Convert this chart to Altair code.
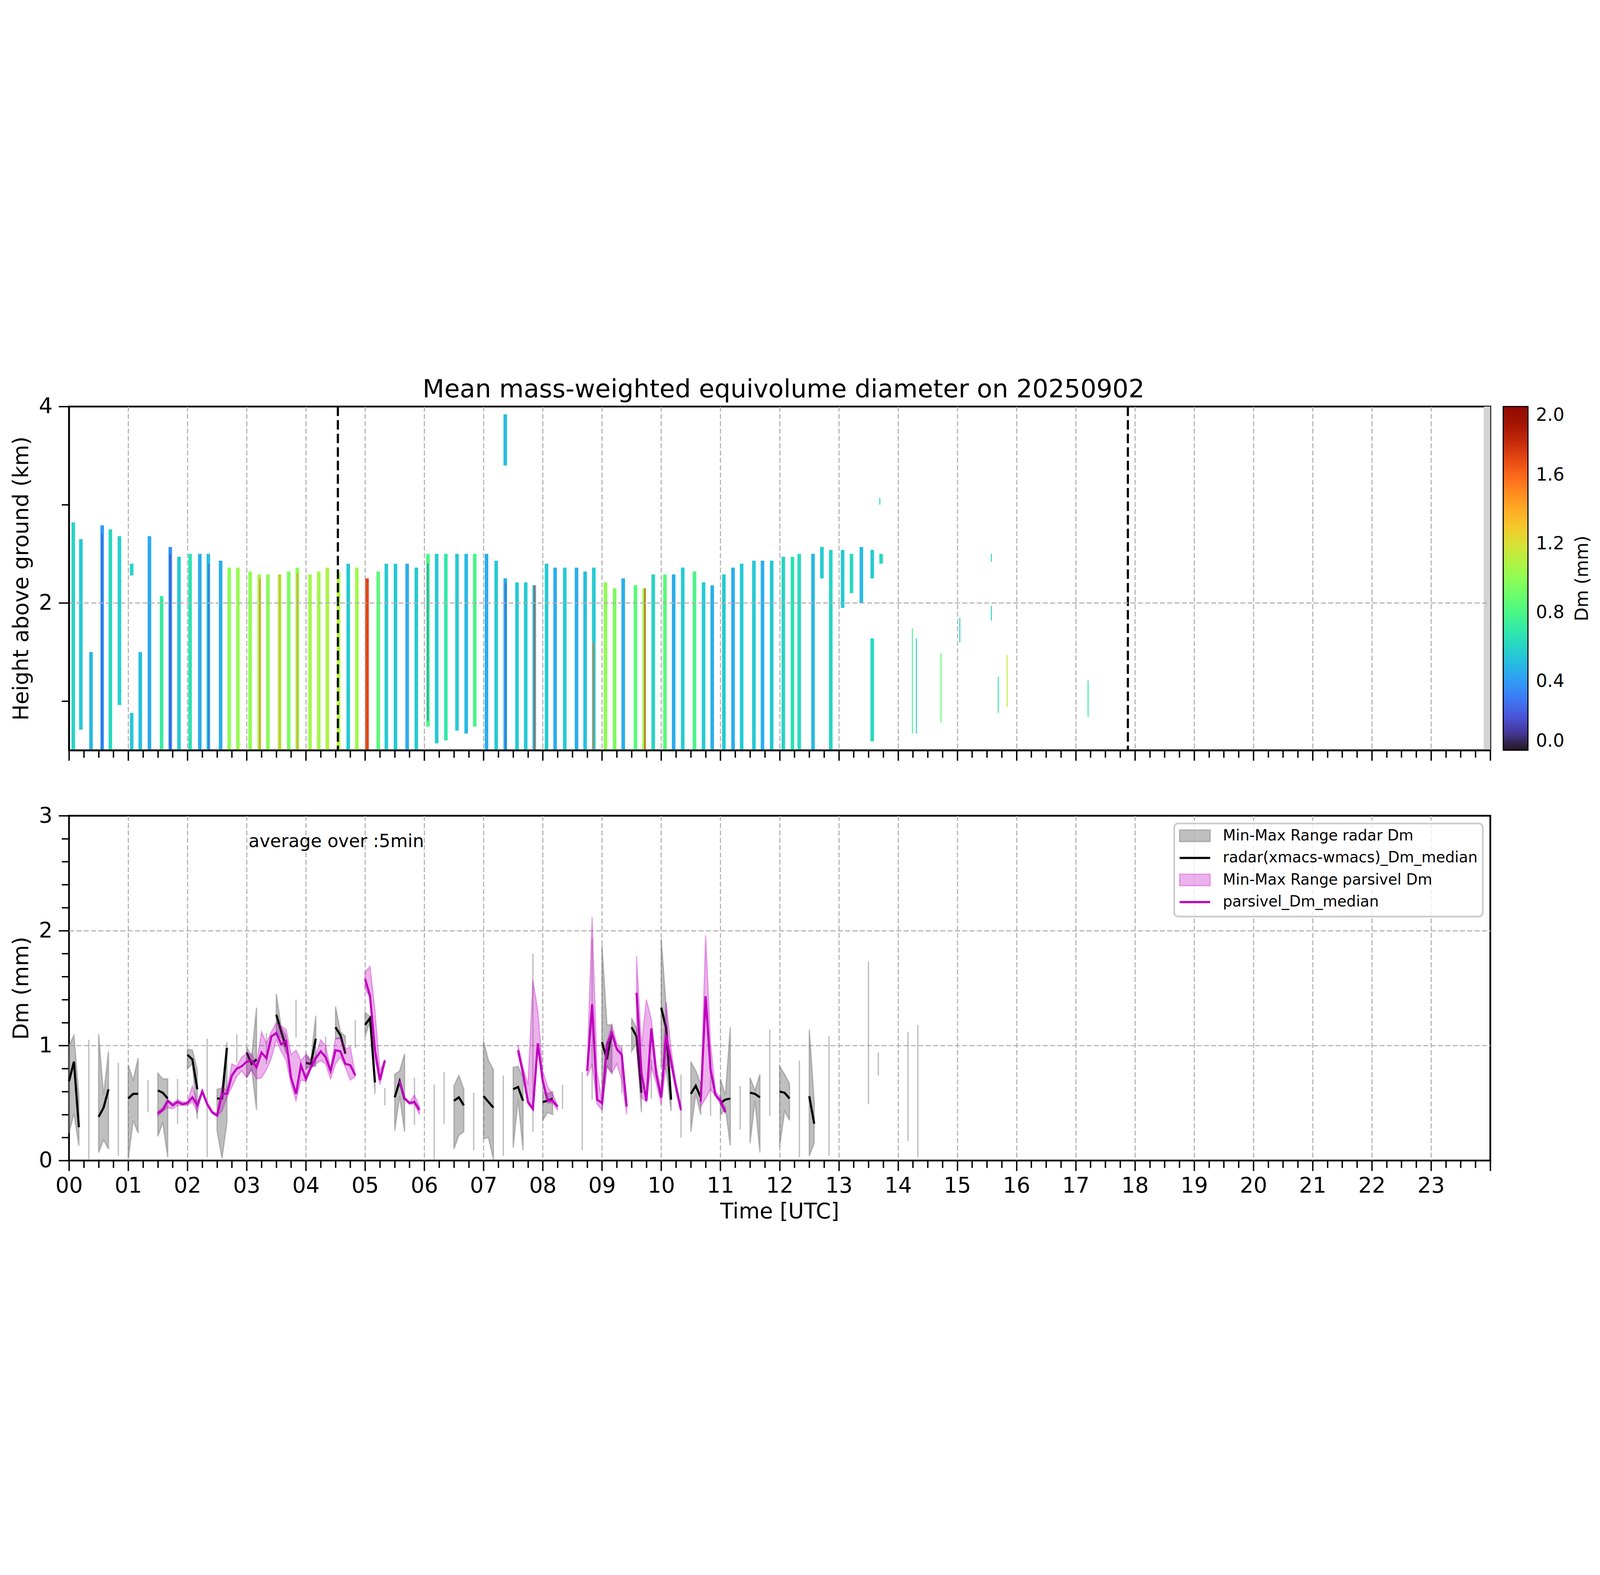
import altair as alt
import pandas as pd

# ------------------------------------------------------------------ text
TITLE = "Mean mass-weighted equivolume diameter on 20250902"
NOTE = "average over :5min"
CBAR_LABEL = "Dm (mm)"
LEGEND_LABELS = ["Min-Max Range radar Dm", "radar(xmacs-wmacs)_Dm_median",
                 "Min-Max Range parsivel Dm", "parsivel_Dm_median"]

# ------------------------------------------------------------------ top panel data
# radar sweeps: start (minutes UTC), top / bottom height (km), Dm (mm)
stripe_start_min = [2.5, 10.2, 20.5, 31.8, 40.1, 49.3, 61.7, 61.7, 70.4, 79.7,
                    92.0, 100.8, 109.6, 120.9, 130.7, 139.4, 151.8, 160.5, 169.3, 181.7,
                    190.9, 199.7, 211.5, 220.8, 229.5, 242.4, 251.2, 259.9, 271.3, 281.1,
                    289.8, 300.1, 311.5, 319.7, 329.0, 340.8, 350.1, 361.9, 370.7, 380.0,
                    391.3, 400.6, 409.3, 421.2, 431.0, 440.2, 452.1, 460.9, 469.6, 482.0,
                    490.7, 500.5, 512.4, 521.1, 529.9, 541.7, 551.0, 559.7, 572.1, 580.9,
                    590.1, 602.0, 610.8, 620.0, 631.9, 641.1, 649.9, 661.7, 671.0, 679.7,
                    692.1, 700.8, 710.1, 721.9, 731.2, 738.0, 752.0, 761.0, 770.0, 782.0,
                    791.0, 801.0, 812.0, 821.0, 812.0, 440.2]
stripe_top_km = [2.82, 2.65, 1.50, 2.79, 2.75, 2.68, 2.40, 0.88, 1.50, 2.68,
                 2.07, 2.57, 2.47, 2.50, 2.50, 2.50, 2.43, 2.36, 2.36, 2.32,
                 2.29, 2.29, 2.29, 2.32, 2.36, 2.29, 2.32, 2.36, 2.32, 2.40,
                 2.36, 2.25, 2.32, 2.40, 2.40, 2.40, 2.36, 2.50, 2.50, 2.50,
                 2.50, 2.50, 2.50, 2.50, 2.43, 2.25, 2.21, 2.21, 2.18, 2.40,
                 2.36, 2.36, 2.36, 2.32, 2.36, 2.21, 2.15, 2.25, 2.18, 2.15,
                 2.29, 2.29, 2.29, 2.36, 2.32, 2.21, 2.18, 2.29, 2.36, 2.40,
                 2.43, 2.43, 2.43, 2.47, 2.47, 2.50, 2.50, 2.57, 2.54, 2.54,
                 2.50, 2.57, 2.54, 2.50, 1.64, 3.92]
stripe_bottom_km = [0.5, 0.71, 0.5, 0.5, 0.5, 0.96, 2.28, 0.5, 0.5, 0.5,
                    0.5, 0.5, 0.5, 0.5, 0.5, 0.5, 0.5, 0.5, 0.5, 0.5,
                    0.5, 0.5, 0.5, 0.5, 0.5, 0.5, 0.5, 0.5, 0.5, 0.5,
                    0.5, 0.5, 0.5, 0.5, 0.5, 0.5, 0.5, 0.74, 0.57, 0.60,
                    0.70, 0.67, 0.74, 0.5, 0.5, 0.5, 0.5, 0.5, 0.5, 0.5,
                    0.5, 0.5, 0.5, 0.5, 0.5, 0.5, 0.5, 0.5, 0.5, 0.5,
                    0.5, 0.5, 0.5, 0.5, 0.5, 0.5, 0.5, 0.5, 0.5, 0.5,
                    0.5, 0.5, 0.5, 0.5, 0.5, 0.5, 0.5, 2.25, 0.5, 1.95,
                    2.10, 2.00, 2.25, 2.40, 0.59, 3.40]
stripe_dm_mm = [0.60, 0.55, 0.50, 0.40, 0.62, 0.58, 0.60, 0.55, 0.52, 0.45,
                0.72, 0.38, 0.56, 0.66, 0.46, 0.52, 0.46, 1.00, 1.02, 1.00,
                1.05, 0.98, 1.05, 0.95, 1.00, 1.05, 1.05, 1.08, 1.10, 0.56,
                1.05, 1.70, 0.85, 0.56, 0.56, 0.46, 0.56, 0.80, 0.56, 0.70,
                0.56, 0.50, 0.80, 0.46, 0.56, 0.46, 0.56, 0.56, 0.50, 0.56,
                0.46, 0.56, 0.46, 0.52, 0.56, 1.00, 0.95, 0.46, 0.85, 1.05,
                0.60, 0.85, 0.46, 0.56, 0.80, 0.56, 0.46, 0.56, 0.46, 0.56,
                0.56, 0.46, 0.56, 0.60, 0.66, 0.62, 0.50, 0.56, 0.60, 0.56,
                0.62, 0.50, 0.56, 0.62, 0.62, 0.52]
STRIPE_MIN = 3.6

# thin streaks / isolated echoes
streak_start_min = [33, 102, 141, 193, 213, 231, 363, 442, 471, 531, 583,
                    821, 854, 858, 883, 902, 934, 934, 941, 950, 1032]
streak_top_km = [2.70, 2.50, 2.40, 2.25, 2.29, 2.30, 2.40, 2.20, 2.18, 1.60, 2.15,
                 3.07, 1.74, 1.64, 1.49, 1.85, 2.50, 1.97, 1.25, 1.47, 1.21]
streak_bottom_km = [0.5, 0.5, 0.5, 0.5, 0.5, 0.5, 0.80, 0.5, 0.5, 0.5, 0.5,
                    3.00, 0.67, 0.67, 0.78, 1.60, 2.42, 1.82, 0.88, 0.94, 0.84]
streak_dm_mm = [0.20, 0.15, 0.22, 1.60, 1.45, 1.50, 0.25, 0.20, 1.70, 1.60, 1.75,
                0.60, 0.80, 0.60, 0.85, 0.60, 0.60, 0.60, 0.70, 1.15, 0.70]
STREAK_MIN = 1.0

sun_line_hour = [4.54, 17.88]
nodata_start_hour = [23.89]
nodata_end_hour = [24.0]
colorbar_ticks = [0.0, 0.4, 0.8, 1.2, 1.6, 2.0]

# ------------------------------------------------------------------ bottom panel data (5-min index)
radar_k = [0, 1, 2, 4, 6, 7, 8, 10, 12, 13, 14, 16, 18, 19, 20, 22, 24, 25, 26, 28,
           30, 31, 32, 34, 36, 37, 38, 40, 42, 43, 44, 46, 48, 49, 50, 52, 54, 55, 56, 58,
           60, 61, 62, 64, 66, 67, 68, 70, 74, 76, 78, 79, 80, 82, 84, 85, 86, 88, 90, 91,
           92, 94, 96, 97, 98, 100, 104, 106, 108, 109, 110, 112, 114, 115, 116, 118, 120, 121, 122, 124,
           126, 127, 128, 130, 132, 133, 134, 136, 138, 139, 140, 142, 144, 145, 146, 148, 150, 151, 154, 162,
           164, 170, 172]
radar_min = [0.24, 0.41, 0.13, 0.01, 0.07, 0.18, 0.10, 0.04, 0.01, 0.35, 0.24, 0.42, 0.21, 0.33, 0.03, 0.32, 0.80, 0.84, 0.36, 0.03,
             0.26, 0.02, 0.33, 0.85, 0.72, 0.80, 0.44, 0.84, 1.09, 1.07, 0.93, 1.07, 0.80, 0.82, 0.82, 0.88, 1.06, 1.06, 0.93, 0.98,
             1.08, 1.21, 0.58, 0.48, 0.26, 0.56, 0.25, 0.31, 0.01, 0.32, 0.10, 0.22, 0.25, 0.09, 0.19, 0.20, 0.01, 0.04, 0.11, 0.53,
             0.09, 0.25, 0.35, 0.42, 0.40, 0.45, 0.09, 0.53, 0.44, 0.82, 0.76, 0.58, 0.95, 1.02, 0.42, 0.54, 0.82, 0.79, 0.43, 0.20,
             0.25, 0.58, 0.40, 0.39, 0.39, 0.46, 0.13, 0.27, 0.15, 0.52, 0.07, 0.39, 0.12, 0.43, 0.35, 0.03, 0.04, 0.15, 0.04, 0.49,
             0.74, 0.17, 0.03]
radar_med = [0.69, 0.86, 0.29, None, 0.38, 0.46, 0.62, None, 0.54, 0.58, 0.58, None, 0.61, 0.59, 0.54, None, 0.92, 0.88, 0.62, None,
             0.54, 0.54, 0.98, None, 0.94, 0.84, 0.88, None, 1.27, 1.12, 0.99, None, 0.85, 0.84, 1.06, None, 1.16, 1.09, 0.93, None,
             1.18, 1.24, 0.68, None, 0.55, 0.69, 0.53, None, None, None, 0.52, 0.55, 0.48, None, 0.56, 0.51, 0.46, None, 0.62, 0.64,
             0.52, None, 0.51, 0.52, 0.54, None, None, None, 1.03, 0.88, 1.12, None, 1.16, 1.08, 0.59, None, 1.33, 1.15, 0.53, None,
             0.58, 0.65, 0.55, None, 0.50, 0.53, 0.54, None, 0.59, 0.58, 0.55, None, 0.60, 0.59, 0.54, None, 0.56, 0.32, None, None,
             None, None, None]
radar_max = [1.00, 1.09, 0.56, 1.05, 1.10, 0.57, 0.95, 0.85, 0.83, 0.70, 0.89, 0.70, 0.76, 0.71, 0.71, 0.71, 0.97, 0.96, 0.79, 1.06,
             0.62, 0.63, 1.03, 1.10, 0.99, 0.90, 1.33, 1.11, 1.45, 1.16, 1.08, 1.40, 0.93, 0.87, 1.26, 1.08, 1.34, 1.12, 1.08, 1.22,
             1.29, 1.25, 0.70, 0.63, 0.75, 0.78, 0.93, 0.72, 0.66, 0.77, 0.65, 0.74, 0.62, 0.59, 1.04, 0.87, 0.79, 0.74, 0.81, 0.82,
             0.72, 1.80, 0.60, 0.58, 0.60, 0.66, 0.77, 1.93, 1.87, 1.18, 1.18, 1.00, 1.24, 1.15, 0.60, 0.88, 1.93, 1.33, 0.55, 0.75,
             0.86, 0.78, 0.67, 0.80, 0.71, 0.57, 1.16, 0.65, 0.72, 0.61, 0.75, 1.14, 0.82, 0.75, 0.67, 0.87, 1.14, 0.51, 1.08, 1.73,
             0.94, 1.12, 1.18]

pars_k = (list(range(18, 59)) + list(range(60, 65)) + list(range(67, 72)) + list(range(91, 100))
          + list(range(105, 114)) + list(range(115, 125)) + list(range(128, 134)))
pars_min = [0.39, 0.43, 0.46, 0.45, 0.48, 0.48, 0.48, 0.51, 0.42, 0.60,
            0.48, 0.41, 0.39, 0.43, 0.55, 0.64, 0.73, 0.78, 0.72, 0.79,
            0.71, 0.72, 0.79, 0.89, 1.05, 0.95, 0.87, 0.66, 0.52, 0.70,
            0.69, 0.80, 0.84, 0.87, 0.84, 0.71, 0.84, 0.90, 0.81, 0.70,
            0.73,
            1.49, 1.42, 0.88, 0.66, 0.86,
            0.68, 0.53, 0.49, 0.49, 0.40,
            0.93, 0.73, 0.49, 0.44, 1.00, 0.66, 0.50, 0.50, 0.44,
            0.73, 0.84, 0.49, 0.44, 0.82, 0.76, 0.84, 0.70, 0.40,
            0.98, 0.55, 0.51, 0.82, 0.67, 0.49, 0.83, 0.81, 0.60, 0.43,
            0.47, 0.54, 0.62, 0.56, 0.49, 0.41]
pars_med = [0.41, 0.44, 0.52, 0.48, 0.51, 0.49, 0.50, 0.55, 0.48, 0.60,
            0.49, 0.42, 0.39, 0.58, 0.58, 0.74, 0.80, 0.82, 0.86, 0.87,
            0.81, 0.94, 0.89, 1.08, 1.11, 1.01, 1.04, 0.72, 0.58, 0.83,
            0.71, 0.81, 0.89, 0.95, 0.90, 0.78, 0.96, 0.95, 0.84, 0.83,
            0.74,
            1.58, 1.43, 0.96, 0.70, 0.87,
            0.69, 0.54, 0.50, 0.51, 0.44,
            0.96, 0.76, 0.51, 0.45, 1.02, 0.69, 0.52, 0.52, 0.47,
            0.78, 1.36, 0.53, 0.50, 1.01, 1.11, 0.97, 0.92, 0.47,
            1.46, 0.76, 0.52, 1.15, 0.75, 0.55, 1.09, 0.86, 0.64, 0.44,
            0.51, 1.43, 0.79, 0.57, 0.52, 0.42]
pars_max = [0.43, 0.46, 0.53, 0.50, 0.53, 0.51, 0.51, 0.65, 0.50, 0.62,
            0.51, 0.43, 0.41, 0.64, 0.61, 0.84, 0.82, 0.90, 0.93, 0.93,
            0.84, 1.12, 1.02, 1.12, 1.20, 1.17, 1.14, 0.92, 0.96, 0.87,
            0.92, 0.87, 0.91, 1.05, 1.00, 0.80, 1.06, 1.07, 0.97, 0.99,
            0.75,
            1.64, 1.69, 1.30, 0.78, 0.88,
            0.70, 0.55, 0.51, 0.57, 0.47,
            1.00, 0.81, 0.66, 1.57, 1.30, 0.78, 0.64, 0.58, 0.48,
            0.82, 2.12, 0.78, 0.51, 1.03, 1.18, 1.02, 0.97, 0.51,
            1.78, 1.00, 1.40, 1.23, 0.82, 0.60, 1.38, 0.97, 0.67, 0.48,
            0.52, 1.96, 1.02, 0.60, 0.55, 0.45]

# ------------------------------------------------------------------ style / layout
FONT = "DejaVu Sans"
W, H_TOP, H_BOT = 6601, 1596, 1601
GRID = "#b0b0b0"
GREY = "#808080"
MAG = "#bf00bf"
HOUR = "datum.value % 1 === 0"
X_GRID = "datum.value % 1 === 0 && datum.value > 0 && datum.value < 24"
YB_GRID = "datum.value % 1 === 0 && datum.value > 0 && datum.value < 3"


def frame_rows(ks, lo, med, hi):
    rows, seg = [], 0
    for i, k in enumerate(ks):
        if i > 0 and k - ks[i - 1] > 1:
            seg += 1
        rows.append({"t": k / 12.0, "lo": lo[i], "med": med[i], "hi": hi[i], "seg": seg})
    df = pd.DataFrame(rows)
    n = df.groupby("seg")["t"].transform("size")
    return df[n > 1].reset_index(drop=True), df[n == 1].reset_index(drop=True)


radar_run, radar_single = frame_rows(radar_k, radar_min, radar_med, radar_max)
pars_run, pars_single = frame_rows(pars_k, pars_min, pars_med, pars_max)

top_df = pd.DataFrame({
    "t0": [s / 60.0 for s in stripe_start_min] + [s / 60.0 for s in streak_start_min],
    "t1": [(s + STRIPE_MIN) / 60.0 for s in stripe_start_min] + [(s + STREAK_MIN) / 60.0 for s in streak_start_min],
    "h0": stripe_bottom_km + streak_bottom_km,
    "h1": stripe_top_km + streak_top_km,
    "dm": stripe_dm_mm + streak_dm_mm,
})
sun_df = pd.DataFrame({"t": sun_line_hour})
nodata_df = pd.DataFrame({"t0": nodata_start_hour, "t1": nodata_end_hour})

xs = alt.Scale(domain=[0, 24], nice=False, zero=False)
x_values = [i * 0.25 for i in range(97)]


def x_axis(show_labels):
    kw = dict(values=x_values, grid=True, gridColor=GRID, gridDash=[23, 11], gridWidth=5,
              gridOpacity={"condition": {"test": X_GRID, "value": 1}, "value": 0},
              tickSize={"condition": {"test": HOUR, "value": 48}, "value": 34},
              tickColor="black", tickWidth=6.5, labelOverlap=False, labelFlush=False)
    if show_labels:
        kw.update(labelExpr="datum.value % 1 === 0 && datum.value < 24 ? "
                            "(datum.value < 10 ? '0' : '') + format(datum.value, 'd') : ''",
                  labelFontSize=100, labelPadding=20, title="Time [UTC]", titleFontSize=100,
                  titlePadding=22, domain=False)
    else:
        kw.update(labels=False, title=None, zindex=1, domain=True, domainColor="black", domainWidth=8)
    return alt.Axis(**kw)


X_TOP = x_axis(False)
X_BOT = x_axis(True)

ys_top = alt.Scale(domain=[0.5, 4], nice=False, zero=False)
Y_TOP = alt.Axis(values=[1, 2, 3, 4], labelExpr="datum.value % 2 === 0 ? format(datum.value, 'd') : ''",
                 tickSize={"condition": {"test": "datum.value % 2 === 0", "value": 48}, "value": 34},
                 gridOpacity={"condition": {"test": "datum.value === 2", "value": 1}, "value": 0},
                 grid=True, gridColor=GRID, gridDash=[23, 11], gridWidth=5,
                 tickColor="black", tickWidth=6.5, domain=True, domainColor="black", domainWidth=8,
                 labelFontSize=100, labelPadding=29, labelOverlap=False, labelFlush=False,
                 title="Height above ground (km)", titleFontSize=100, titlePadding=28, zindex=1)

ys_bot = alt.Scale(domain=[0, 3], nice=False, zero=False)
Y_BOT = alt.Axis(values=[round(i * 0.2, 1) for i in range(16)],
                 labelExpr="datum.value % 1 === 0 ? format(datum.value, 'd') : ''",
                 tickSize={"condition": {"test": HOUR, "value": 48}, "value": 34},
                 gridOpacity={"condition": {"test": YB_GRID, "value": 1}, "value": 0},
                 grid=True, gridColor=GRID, gridDash=[23, 11], gridWidth=5,
                 tickColor="black", tickWidth=6.5, domain=False,
                 labelFontSize=100, labelPadding=29, labelOverlap=False, labelFlush=False,
                 title="Dm (mm)", titleFontSize=100, titlePadding=28)

# ------------------------------------------------------------------ top panel
stripes = alt.Chart(top_df).mark_rect().encode(
    x=alt.X("t0:Q", scale=xs, axis=X_TOP),
    x2="t1:Q",
    y=alt.Y("h0:Q", scale=ys_top, axis=Y_TOP),
    y2="h1:Q",
    color=alt.Color("dm:Q", scale=alt.Scale(scheme="turbo", domain=[0, 2]),
                    legend=alt.Legend(title=None, orient="none", legendX=W + 60, legendY=0,
                                      direction="vertical",
                                      values=colorbar_ticks, format=".1f",
                                      gradientLength=H_TOP, gradientThickness=115,
                                      gradientStrokeColor="black", gradientStrokeWidth=5,
                                      labelFontSize=83, labelFont=FONT, labelColor="black",
                                      labelOffset=37, padding=0,
                                      labelBaseline="middle", labelOverlap=False)),
)
nodata = alt.Chart(nodata_df).mark_rect(color="#d3d3d3").encode(
    x=alt.X("t0:Q", scale=xs, axis=X_TOP), x2="t1:Q",
    y=alt.value(0), y2=alt.value(H_TOP))
sunlines = alt.Chart(sun_df).mark_rule(color="black", strokeWidth=10, strokeDash=[44, 19]).encode(
    x=alt.X("t:Q", scale=xs, axis=X_TOP))
cbar_label = alt.Chart(pd.DataFrame({"txt": [CBAR_LABEL]})).mark_text(
    angle=270, fontSize=83, font=FONT, color="black", align="center", baseline="middle").encode(
    x=alt.value(7030), y=alt.value(H_TOP / 2), text="txt:N")
title_mark = alt.Chart(pd.DataFrame({"txt": [TITLE]})).mark_text(
    fontSize=117, font=FONT, color="black", align="center", baseline="alphabetic").encode(
    x=alt.value(W / 2 + 18), y=alt.value(-42), text="txt:N")

top = alt.layer(stripes, nodata, sunlines, cbar_label, title_mark).properties(width=W, height=H_TOP)

# ------------------------------------------------------------------ bottom panel
XB = alt.X("t:Q", scale=xs, axis=X_BOT)
r_area = alt.Chart(radar_run).mark_area(fill=GREY, fillOpacity=0.5, stroke=GREY, strokeOpacity=0.5,
                                        strokeWidth=6).encode(
    x=XB, y=alt.Y("lo:Q", scale=ys_bot, axis=Y_BOT), y2="hi:Q", detail="seg:N")
r_single = alt.Chart(radar_single).mark_rule(color=GREY, opacity=0.5, strokeWidth=6).encode(
    x=XB, y=alt.Y("lo:Q", scale=ys_bot, axis=Y_BOT), y2="hi:Q")
r_line = alt.Chart(radar_run).mark_line(color="black", strokeWidth=10).encode(
    x=XB, y=alt.Y("med:Q", scale=ys_bot, axis=Y_BOT), detail="seg:N")
p_area = alt.Chart(pars_run).mark_area(fill=MAG, fillOpacity=0.3, stroke=MAG, strokeOpacity=0.3,
                                       strokeWidth=6).encode(
    x=XB, y=alt.Y("lo:Q", scale=ys_bot, axis=Y_BOT), y2="hi:Q", detail="seg:N")
p_line = alt.Chart(pars_run).mark_line(color=MAG, strokeWidth=10).encode(
    x=XB, y=alt.Y("med:Q", scale=ys_bot, axis=Y_BOT), detail="seg:N")

note = alt.Chart(pd.DataFrame({"txt": [NOTE]})).mark_text(
    align="left", baseline="alphabetic", fontSize=83, font=FONT, color="black").encode(
    x=alt.value(834), y=alt.value(145), text="txt:N")

one = pd.DataFrame({"i": [0]})
LX0, LX1, LTX = 5158, 5300, 5359
LY = [93, 196, 298, 401]
leg_box = alt.Chart(one).mark_rect(fill="white", fillOpacity=0.8, stroke="#cccccc", strokeWidth=8,
                                   cornerRadius=18).encode(
    x=alt.value(5133), x2=alt.value(6566), y=alt.value(36), y2=alt.value(468))
leg_p1 = alt.Chart(one).mark_rect(fill=GREY, fillOpacity=0.5, stroke=GREY, strokeOpacity=0.5,
                                  strokeWidth=6).encode(
    x=alt.value(LX0), x2=alt.value(LX1), y=alt.value(LY[0] - 27), y2=alt.value(LY[0] + 27))
leg_l2 = alt.Chart(one).mark_rule(color="black", strokeWidth=10).encode(
    x=alt.value(LX0), x2=alt.value(LX1), y=alt.value(LY[1]))
leg_p3 = alt.Chart(one).mark_rect(fill=MAG, fillOpacity=0.3, stroke=MAG, strokeOpacity=0.3,
                                  strokeWidth=6).encode(
    x=alt.value(LX0), x2=alt.value(LX1), y=alt.value(LY[2] - 27), y2=alt.value(LY[2] + 27))
leg_l4 = alt.Chart(one).mark_rule(color=MAG, strokeWidth=10).encode(
    x=alt.value(LX0), x2=alt.value(LX1), y=alt.value(LY[3]))
leg_txt = [alt.Chart(pd.DataFrame({"txt": [lab]})).mark_text(
    align="left", baseline="middle", fontSize=69.4, font=FONT, color="black").encode(
    x=alt.value(LTX), y=alt.value(LY[i]), text="txt:N") for i, lab in enumerate(LEGEND_LABELS)]

bottom_layers = [r_area, r_single, r_line, p_area]
if len(pars_single):
    bottom_layers.append(alt.Chart(pars_single).mark_rule(color=MAG, opacity=0.3, strokeWidth=6).encode(
        x=XB, y=alt.Y("lo:Q", scale=ys_bot, axis=Y_BOT), y2="hi:Q"))
bottom_layers += [p_line, note, leg_box, leg_p1, leg_l2, leg_p3, leg_l4] + leg_txt
bottom = alt.layer(*bottom_layers).properties(width=W, height=H_BOT)

chart = alt.vconcat(top, bottom, spacing=304, bounds="flush").properties(
    padding={"left": 32, "top": 88, "right": 20, "bottom": 20},
).configure(font=FONT).configure_view(stroke="black", strokeWidth=8).configure_axis(
    labelFont=FONT, titleFont=FONT, labelColor="black", titleColor="black", titleFontWeight="normal")

chart.save("out.html", embed_options={"renderer": "svg", "actions": False})
